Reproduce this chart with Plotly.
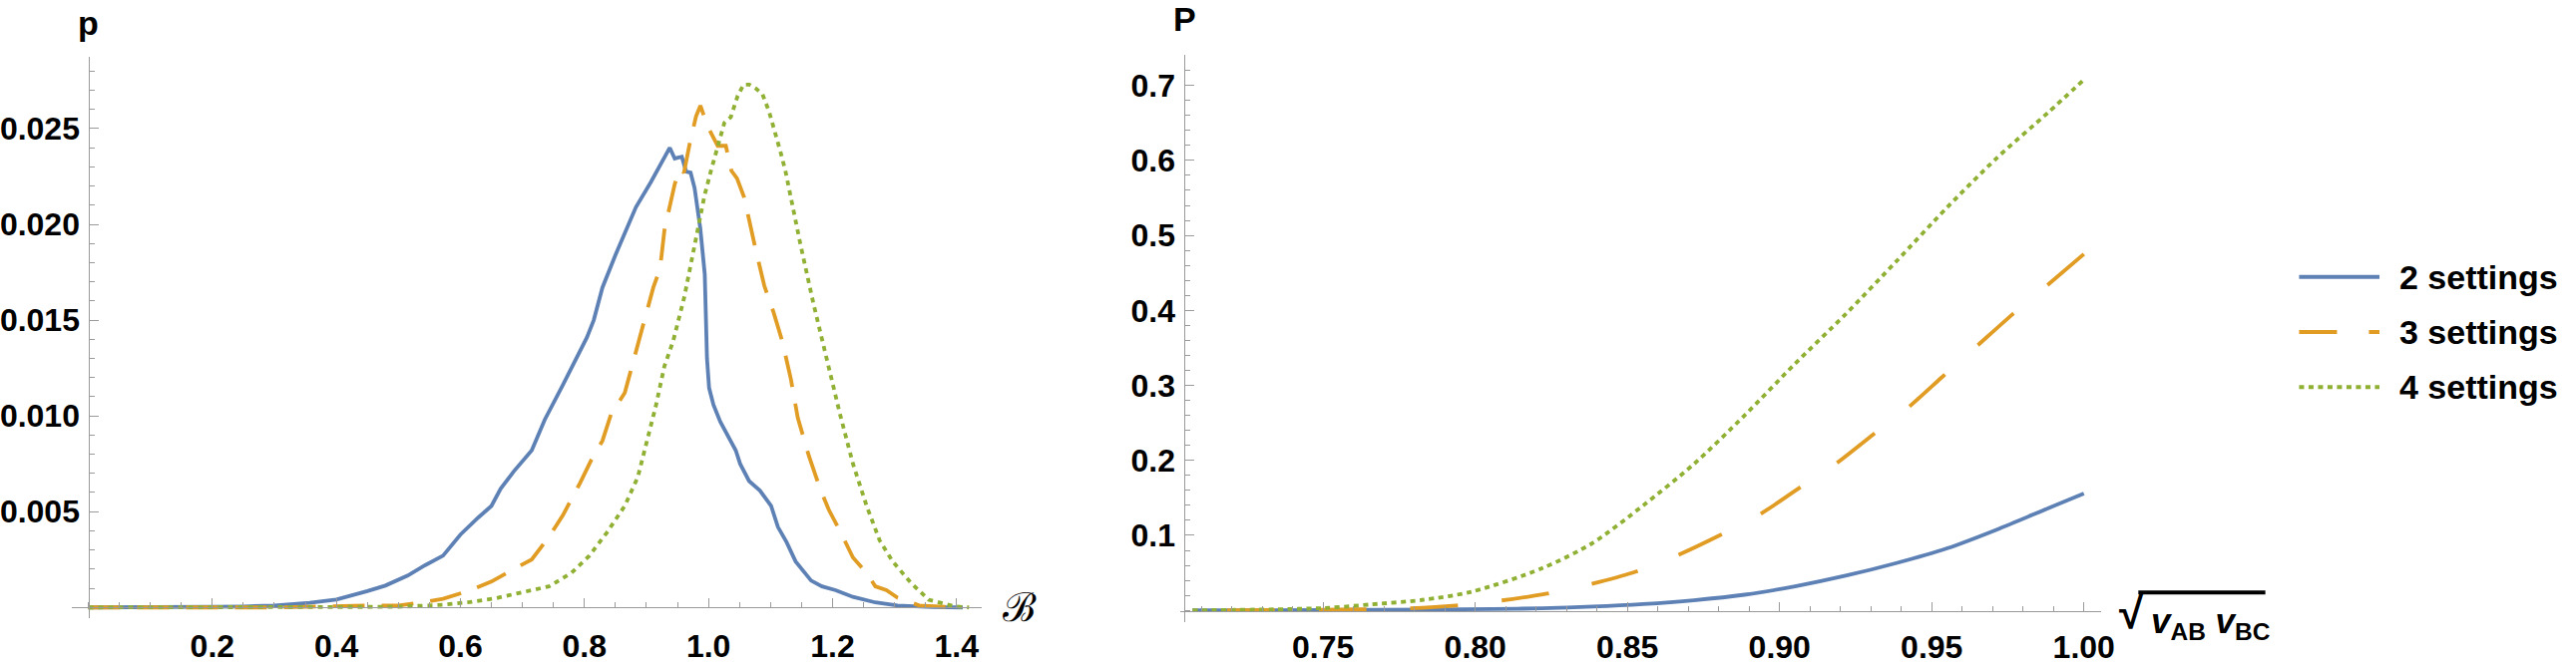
import plotly.graph_objects as go

W, H = 2582, 667

# ---------------- data: left panel (distribution of B) ----------------
blue_l_x = [0, 0.1, 0.2, 0.25, 0.3, 0.357, 0.4, 0.45, 0.479, 0.515, 0.543, 0.572, 0.6, 0.629, 0.65,
            0.665, 0.686, 0.715, 0.736, 0.765, 0.786, 0.804, 0.815, 0.829, 0.85, 0.868, 0.883, 0.907,
            0.922, 0.9376, 0.9456, 0.957, 0.964, 0.9712, 0.9776, 0.9868, 0.994, 0.9976, 1.001, 1.008,
            1.019, 1.03, 1.037, 1.044, 1.051, 1.0655, 1.083, 1.101, 1.112, 1.126, 1.1405, 1.151,
            1.1655, 1.183, 1.205, 1.233, 1.269, 1.305, 1.36, 1.41]
blue_l_y = [0, 0, 0.00003, 0.00005, 0.0001, 0.00024, 0.00041, 0.00085, 0.00114, 0.00166, 0.0022,
            0.0027, 0.0038, 0.0047, 0.0053, 0.0062, 0.0071, 0.0082, 0.0098, 0.0116, 0.0130, 0.0141,
            0.0150, 0.0167, 0.0184, 0.0198, 0.0209, 0.0222, 0.0231, 0.0240, 0.02344, 0.02353,
            0.02275, 0.0227, 0.0219, 0.0198, 0.0174, 0.0130, 0.01146, 0.01058, 0.0097, 0.00904,
            0.0086, 0.0082, 0.0075, 0.0066, 0.0061, 0.0053, 0.0042, 0.0034, 0.0024, 0.0020, 0.0014,
            0.0011, 0.0009, 0.00055, 0.00026, 0.0001, 0.00002, 0]

orange_l_x = [0, 0.3, 0.45, 0.5, 0.545, 0.572, 0.615, 0.65, 0.686, 0.715, 0.743, 0.765, 0.793, 0.811,
              0.829, 0.843, 0.865, 0.875, 0.890, 0.911, 0.922, 0.929, 0.9456, 0.9536, 0.9605, 0.9696,
              0.980, 0.987, 0.9989, 1.0149, 1.028, 1.037, 1.046, 1.0576, 1.076, 1.090, 1.105, 1.119,
              1.133, 1.144, 1.162, 1.18, 1.194, 1.212, 1.233, 1.255, 1.269, 1.287, 1.305, 1.34, 1.40]
orange_l_y = [0, 0, 0.0001, 0.0001, 0.0003, 0.00045, 0.00088, 0.00135, 0.002, 0.0025, 0.0037, 0.0048,
              0.0065, 0.0077, 0.0087, 0.0101, 0.0112, 0.0124, 0.0143, 0.0167, 0.0177, 0.0197, 0.0221,
              0.0229, 0.0227, 0.0242, 0.02565, 0.0262, 0.0251, 0.0241, 0.0241, 0.0228, 0.0224,
              0.0214, 0.0187, 0.0168, 0.0154, 0.0139, 0.0119, 0.0099, 0.0079, 0.0062, 0.0051, 0.0040,
              0.0026, 0.0018, 0.0011, 0.0009, 0.0005, 0.0001, 0]

green_l_x = [0, 0.4, 0.5, 0.572, 0.615, 0.657, 0.7, 0.743, 0.779, 0.808, 0.836, 0.865, 0.886, 0.9,
             0.915, 0.929, 0.943, 0.961, 0.9755, 0.9936, 1.004, 1.015, 1.0256, 1.036, 1.047, 1.0565,
             1.0656, 1.076, 1.087, 1.0976, 1.108, 1.116, 1.124, 1.132, 1.148, 1.169, 1.19, 1.212,
             1.233, 1.255, 1.276, 1.297, 1.326, 1.355, 1.397, 1.42]
green_l_y = [0, 0, 0.00003, 0.00014, 0.00028, 0.00048, 0.0008, 0.0011, 0.0018, 0.0027, 0.0039,
             0.0053, 0.0068, 0.0085, 0.0105, 0.0126, 0.0139, 0.0162, 0.0186, 0.0215, 0.0228, 0.0240,
             0.0253, 0.0256, 0.0267, 0.0273, 0.0273, 0.0271, 0.0268, 0.0259, 0.0248, 0.0238, 0.0228,
             0.0215, 0.0190, 0.0159, 0.0130, 0.0101, 0.0075, 0.0053, 0.0035, 0.0024, 0.0013, 0.0004,
             0.00005, 0]

# ---------------- data: right panel (P vs sqrt(vAB vBC)) ----------------
blue_r_x = [0.7071, 0.75, 0.7887, 0.8053, 0.8219, 0.8386, 0.8552, 0.8718, 0.8885, 0.9051, 0.9217,
            0.9384, 0.9550, 0.9716, 0.9883, 1.0]
blue_r_y = [0, 0.0003, 0.0012, 0.0017, 0.0028, 0.005, 0.0084, 0.0135, 0.0209, 0.0321, 0.0462,
            0.0631, 0.0827, 0.1081, 0.1363, 0.1559]

# listed from x = 1 downwards so that the dash pattern starts at the right end
orange_r_x = [1.0, 0.9883, 0.9766, 0.965, 0.9533, 0.9425, 0.9308, 0.9184, 0.9059, 0.8934, 0.8801,
              0.8660, 0.8519, 0.8377, 0.8236, 0.8086, 0.7936, 0.7779, 0.75, 0.7071]
orange_r_y = [0.475, 0.4346, 0.395, 0.353, 0.3107, 0.2713, 0.2347, 0.1953, 0.1616, 0.1278, 0.0996,
              0.0726, 0.0505, 0.0349, 0.0224, 0.0132, 0.0065, 0.0028, 0.0008, 0]

green_r_x = [0.7071, 0.7498, 0.766, 0.7825, 0.7988, 0.8219, 0.8386, 0.8552, 0.8718, 0.8885, 0.9051,
             0.9217, 0.9384, 0.9550, 0.9716, 0.9883, 1.0]
green_r_y = [0, 0.003, 0.008, 0.0139, 0.0249, 0.0560, 0.0900, 0.1400, 0.1950, 0.2600, 0.3290,
             0.3950, 0.4655, 0.5370, 0.6040, 0.6640, 0.7075]

series_names = ["2 settings", "3 settings", "4 settings"]

left_xticks = [0.2, 0.4, 0.6, 0.8, 1.0, 1.2, 1.4]
left_xtext = ["0.2", "0.4", "0.6", "0.8", "1.0", "1.2", "1.4"]
left_yticks = [0.005, 0.010, 0.015, 0.020, 0.025]
left_ytext = ["0.005", "0.010", "0.015", "0.020", "0.025"]
right_xticks = [0.75, 0.80, 0.85, 0.90, 0.95, 1.00]
right_xtext = ["0.75", "0.80", "0.85", "0.90", "0.95", "1.00"]
right_yticks = [0.1, 0.2, 0.3, 0.4, 0.5, 0.6, 0.7]
right_ytext = ["0.1", "0.2", "0.3", "0.4", "0.5", "0.6", "0.7"]

# ---------------- styles ----------------
BLUE = "#5E81B5"
ORANGE = "#E19C24"
GREEN = "#8FB032"
LW = 3.8
FONT = "Liberation Sans, Arial, sans-serif"
AXCOL = "#9a9a9a"


def fx(p):
    return p / W


def fy(p):
    return 1 - p / H


fig = go.Figure()

left_series = [(blue_l_x, blue_l_y, BLUE, "solid"),
               (orange_l_x, orange_l_y, ORANGE, "32px,17px"),
               (green_l_x, green_l_y, GREEN, "5px,5px")]
right_series = [(blue_r_x, blue_r_y, BLUE, "solid"),
                (orange_r_x, orange_r_y, ORANGE, "48px,44px"),
                (green_r_x, green_r_y, GREEN, "5px,4.5px")]

for (x, y, c, d), name in zip(left_series, series_names):
    fig.add_trace(go.Scatter(x=x, y=y, mode="lines", name=name, showlegend=False,
                             line=dict(color=c, width=LW, dash=d),
                             xaxis="x", yaxis="y"))
for (x, y, c, d), name in zip(right_series, series_names):
    fig.add_trace(go.Scatter(x=x, y=y, mode="lines", name=name, showlegend=False,
                             line=dict(color=c, width=LW, dash=d, shape="spline", smoothing=0.8),
                             xaxis="x2", yaxis="y2"))

tickfont = dict(family=FONT, size=32, color="black", weight="bold")
common = dict(showgrid=False, zeroline=False, showline=True, linecolor=AXCOL, linewidth=1.3,
              ticks="inside", tickcolor=AXCOL, tickwidth=1.3, ticklen=9, tickfont=tickfont,
              fixedrange=True)

# panel geometry (pixels)
LX0, LX1, LYT, LYB = 72, 989, 57, 623
RX0, RX1, RYT, RYB = 1189, 2117, 55.5, 627

minor_style = dict(ticks="inside", ticklen=5, tickcolor=AXCOL, tickwidth=1.2)

fig.update_layout(
    width=W, height=H,
    margin=dict(l=0, r=0, t=0, b=0),
    paper_bgcolor="white", plot_bgcolor="white",
    showlegend=False,
    xaxis=dict(domain=[fx(LX0), fx(LX1)], range=[-0.0272, 1.44], anchor="free", position=fy(612),
               tickvals=left_xticks, ticktext=left_xtext, ticklabelstandoff=10,
               minor=dict(dtick=0.05, tick0=0, **minor_style), **common),
    yaxis=dict(domain=[fy(LYB), fy(LYT)], range=[-0.00057, 0.02876], anchor="free", position=fx(89),
               tickvals=left_yticks, ticktext=left_ytext, ticklabelstandoff=2,
               minor=dict(dtick=0.001, tick0=0, **minor_style), **common),
    xaxis2=dict(domain=[fx(RX0), fx(RX1)], range=[0.7029, 1.0055], anchor="free", position=fy(615.5),
                tickvals=right_xticks, ticktext=right_xtext, ticklabelstandoff=8,
                minor=dict(dtick=0.01, tick0=0, **minor_style), **common),
    yaxis2=dict(domain=[fy(RYB), fy(RYT)], range=[-0.0159, 0.7404], anchor="free", position=fx(1193),
                tickvals=right_yticks, ticktext=right_ytext, ticklabelstandoff=2,
                minor=dict(dtick=0.02, tick0=0, **minor_style), **common),
)

ann = []
# axis labels
ann.append(dict(x=fx(89), y=fy(23), xref="paper", yref="paper", text="<b>p</b>", showarrow=False,
                font=dict(family=FONT, size=34, color="black"), xanchor="center", yanchor="middle"))
ann.append(dict(x=fx(1194), y=fy(19), xref="paper", yref="paper", text="<b>P</b>", showarrow=False,
                font=dict(family=FONT, size=34, color="black"), xanchor="center", yanchor="middle"))
ann.append(dict(x=fx(1008), y=fy(612), xref="paper", yref="paper", text="ℬ", showarrow=False,
                font=dict(family="DejaVu Serif, serif", size=40, color="black"), xanchor="left", yanchor="middle"))
# sqrt(vAB vBC)
ann.append(dict(x=fx(2134), y=fy(617), xref="paper", yref="paper", text="<b>√</b>", showarrow=False,
                font=dict(family=FONT, size=44, color="black"), xanchor="left", yanchor="middle"))
ann.append(dict(x=fx(2166), y=fy(628), xref="paper", yref="paper",
                text="<b><i>v</i><sub>AB</sub> <i>v</i><sub>BC</sub></b>", showarrow=False,
                font=dict(family=FONT, size=35, color="black"), xanchor="left", yanchor="middle"))

shapes = [dict(type="line", xref="paper", yref="paper", x0=fx(2155), x1=fx(2283), y0=fy(597), y1=fy(597),
               line=dict(color="black", width=4))]

# legend
leg_y = [279, 334.5, 390]
leg_styles = [(BLUE, "solid"), (ORANGE, "38px,32px"), (GREEN, "5px,4.5px")]
for name, yy, (c, d) in zip(series_names, leg_y, leg_styles):
    shapes.append(dict(type="line", xref="paper", yref="paper", x0=fx(2317), x1=fx(2398),
                       y0=fy(yy), y1=fy(yy), line=dict(color=c, width=LW, dash=d)))
    ann.append(dict(x=fx(2416), y=fy(yy), xref="paper", yref="paper", text="<b>%s</b>" % name,
                    showarrow=False, font=dict(family=FONT, size=34, color="black"),
                    xanchor="left", yanchor="middle"))

fig.update_layout(annotations=ann, shapes=shapes)
fig.write_html("out.html")
